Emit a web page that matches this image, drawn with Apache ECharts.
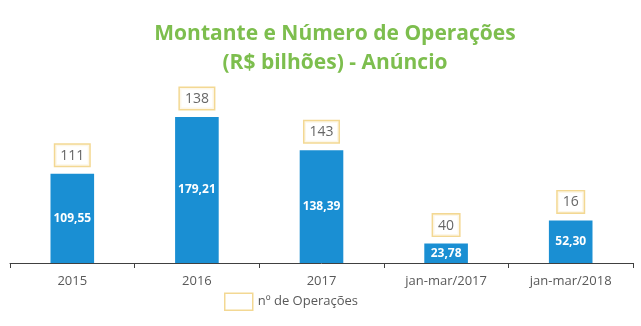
<!DOCTYPE html>
<html><head><meta charset="utf-8">
<script src="https://cdn.jsdelivr.net/npm/echarts@6/dist/echarts.min.js"></script>
<style>html,body{margin:0;padding:0;background:#fff}#c{width:641px;height:326px}</style>
</head><body><div id="c"></div>
<script>
const categories = ['2015', '2016', '2017', 'jan-mar/2017', 'jan-mar/2018'];
const montante = [109.55, 179.21, 138.39, 23.78, 52.30];
const operacoes = [111, 138, 143, 40, 16];

const chart = echarts.init(document.getElementById('c'));
chart.setOption({
  animation: false,
  title: {
    text: 'Montante e Número de Operações\n(R$ bilhões) - Anúncio',
    left: 330, top: 15, textAlign: 'center',
    textStyle: { color: '#7DBE4E', fontSize: 21, fontWeight: 'bold', fontFamily: 'Open Sans', lineHeight: 29 }
  },
  legend: {
    bottom: 10, left: 219,
    itemWidth: 28, itemHeight: 17, itemGap: 10,
    textStyle: { color: '#595959', fontSize: 13, fontFamily: 'Open Sans' },
    data: [{ name: 'nº de Operações', icon: 'rect', itemStyle: { color: '#fff', borderColor: '#F0CE78', borderWidth: 1.5 } }]
  },
  grid: { left: 10, right: 8, top: 100, bottom: 63 },
  xAxis: {
    type: 'category', data: categories,
    axisLine: { lineStyle: { color: '#404040', width: 1 } },
    axisTick: { show: true, length: 5, lineStyle: { color: '#404040' } },
    axisLabel: { color: '#595959', fontSize: 13, fontFamily: 'Open Sans', margin: 12 }
  },
  yAxis: { type: 'value', min: 0, max: 200, show: false, splitLine: { show: false } },
  series: [
    {
      type: 'bar', name: 'Montante', data: montante, barWidth: '35%',
      itemStyle: { color: '#1A8FD3' },
      label: {
        show: true, position: 'inside', color: '#fff', fontWeight: 'bold', fontSize: 12, fontFamily: 'Open Sans',
        formatter: p => p.value.toFixed(2).replace('.', ',')
      }
    },
    {
      type: 'scatter', name: 'nº de Operações', symbolSize: 0,
      itemStyle: { color: '#fff', borderColor: '#F0CE78' },
      data: montante.map((v, i) => [categories[i], v, operacoes[i]]),
      label: {
        show: true, position: 'top', distance: 8,
        formatter: p => String(p.value[2]),
        color: '#404040', fontSize: 14, fontFamily: 'Open Sans',
        backgroundColor: '#fff', borderColor: '#F0CE78', borderWidth: 1.5,
        padding: [4, 5, 3, 5]
      }
    }
  ]
});
</script></body></html>
